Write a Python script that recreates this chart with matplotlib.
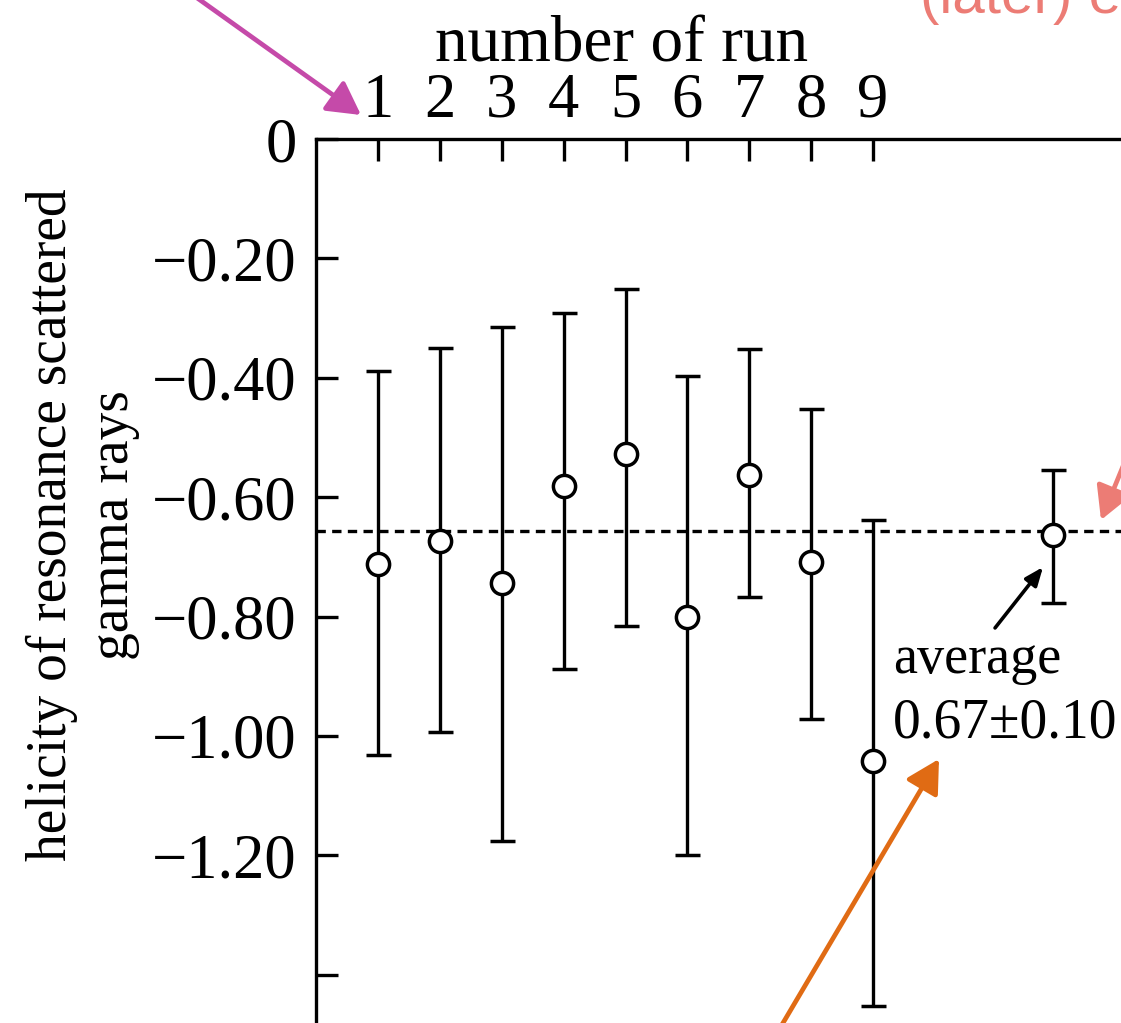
import matplotlib.pyplot as plt
from matplotlib.patches import FancyArrowPatch
from matplotlib.ticker import FixedLocator, FixedFormatter

plt.rcParams['font.family'] = ['Liberation Serif', 'DejaVu Serif']
plt.rcParams['axes.unicode_minus'] = True

# data
runs = [1, 2, 3, 4, 5, 6, 7, 8, 9]
helicity = [-0.712, -0.673, -0.743, -0.581, -0.528, -0.800, -0.562, -0.709, -1.042]
upper = [-0.388, -0.350, -0.315, -0.291, -0.251, -0.397, -0.352, -0.453, -0.638]
lower = [-1.032, -0.994, -1.176, -0.888, -0.815, -1.199, -0.768, -0.972, -1.452]

avg_x = 11.9
avg_value = -0.663
avg_upper = -0.554
avg_lower = -0.778
avg_line = -0.657

y_ticks = [0, -0.2, -0.4, -0.6, -0.8, -1.0, -1.2, -1.4]
y_labels = ['0', '\u22120.20', '\u22120.40', '\u22120.60', '\u22120.80', '\u22121.00', '\u22121.20', '']

W, H = 1121, 1023
fig = plt.figure(figsize=(W / 100, H / 100), dpi=100)

# axes placed in pixels (top-left origin), partly outside the canvas like the crop
left_px, top_px = 316, 139
px_per_x = 61.9
px_per_y = 597
x_max, y_min = 14, -1.5
w_px = x_max * px_per_x
h_px = -y_min * px_per_y
ax = fig.add_axes([left_px / W, 1 - (top_px + h_px) / H, w_px / W, h_px / H])
ax.set_xlim(0, x_max)
ax.set_ylim(y_min, 0)

lw = 2.4
ax.spines['right'].set_visible(False)
ax.spines['bottom'].set_visible(False)
ax.spines['left'].set_linewidth(lw)
ax.spines['top'].set_linewidth(lw)

# error bars of the nine runs and the average
err_lo = [h - l for h, l in zip(helicity, lower)]
err_hi = [u - h for h, u in zip(helicity, upper)]
style = dict(fmt='o', color='black', mfc='white', mec='black', ms=16, mew=2.5,
             elinewidth=lw, capsize=9, capthick=lw + 0.4, zorder=3)
ax.errorbar(runs, helicity, yerr=[err_lo, err_hi], **style)
ax.errorbar([avg_x], [avg_value], yerr=[[avg_value - avg_lower], [avg_upper - avg_value]], **style)

ax.axhline(avg_line, color='black', lw=lw, dashes=(2.8, 1.9), zorder=2)

# ticks
ax.xaxis.set_ticks_position('top')
ax.set_xticks(runs)
ax.set_xticklabels([str(r) for r in runs])
ax.tick_params(axis='x', direction='in', length=16, width=lw, pad=6, labelsize=45)
ax.yaxis.set_major_locator(FixedLocator(y_ticks))
ax.yaxis.set_major_formatter(FixedFormatter(y_labels))
ax.tick_params(axis='y', direction='in', length=16, width=lw, pad=14, labelsize=45)

fig.text(622 / W, 1 - 62 / H, 'number of run', ha='center', va='baseline', fontsize=47)
fig.text(83 / W, 1 - 525 / H, 'helicity of resonance scattered\ngamma rays',
         rotation=90, ha='center', va='center', fontsize=40, linespacing=1.25,
         multialignment='center')

# average annotation
ax.text(9.32, -0.8945, 'average', fontsize=39, ha='left', va='baseline')
ax.text(9.32, -1.0017, '0.67\u00b10.10', fontsize=40, ha='left', va='baseline')
ax.annotate('', xy=(11.745, -0.717), xytext=(10.97, -0.819),
            arrowprops=dict(arrowstyle='-|>,head_length=1.1,head_width=0.45',
                            color='black', lw=2.6, shrinkA=0, shrinkB=0))

# coloured pointer arrows of the slide (pixel positions, top-left origin)
def fp(x, y):
    return (x / W, 1 - y / H)

arrows = [((144, -40), (361, 115), '#c54aa9'),
          ((1142, 420), (1101, 520), '#ec7c75'),
          ((770, 1045), (939, 759), '#e06b14')]
for tail, tip, col in arrows:
    fig.add_artist(FancyArrowPatch(
        fp(*tail), fp(*tip), transform=fig.transFigure,
        arrowstyle='-|>,head_length=10,head_width=5.5', mutation_scale=2,
        color=col, lw=3.4, shrinkA=0, shrinkB=0))

fig.text(920 / W, 1 - 13 / H, '(later) exp', color='#ec7c75', fontsize=42,
         family='Liberation Sans', ha='left', va='baseline')

fig.savefig('out.png', dpi=100)
